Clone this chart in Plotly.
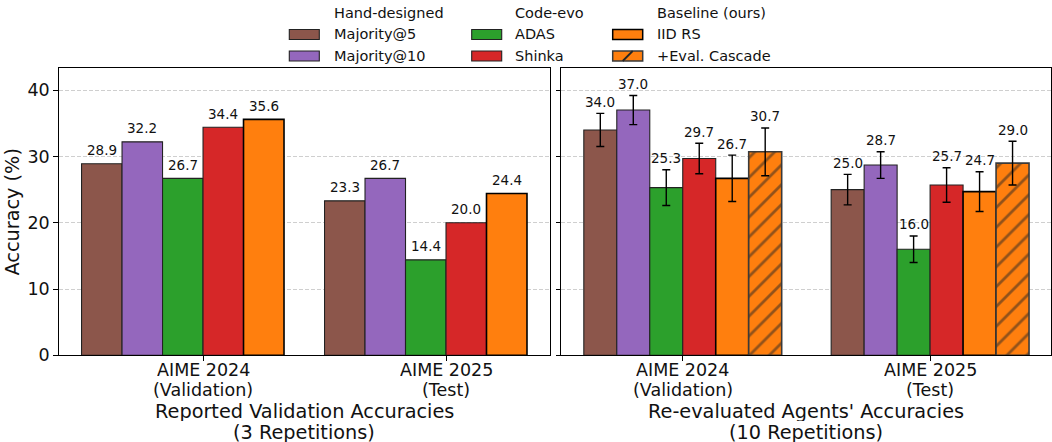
import plotly.graph_objects as go

W, H = 1052, 442

# Benchmarks (x categories), label split over two lines
benchmark_names = ["AIME 2024", "AIME 2025"]
benchmark_splits = ["(Validation)", "(Test)"]

# Methods, grouped as in the legend
hand_designed = ["Majority@5", "Majority@10"]
code_evo = ["ADAS", "Shinka"]
baseline = ["IID RS", "+Eval. Cascade"]
method_colors = ["#8c564b", "#9467bd", "#2ca02c", "#d62728", "#ff7f0e", "#ff7f0e"]

# Reported validation accuracies (3 repetitions)
reported_maj5 = [28.9, 23.3]
reported_maj10 = [32.2, 26.7]
reported_adas = [26.7, 14.4]
reported_shinka = [34.4, 20.0]
reported_iid = [35.6, 24.4]

# Re-evaluated accuracies (10 repetitions) with spread
reeval_maj5 = [34.0, 25.0]
reeval_maj10 = [37.0, 28.7]
reeval_adas = [25.3, 16.0]
reeval_shinka = [29.7, 25.7]
reeval_iid = [26.7, 24.7]
reeval_cascade = [30.7, 29.0]

reeval_maj5_err = [2.5, 2.3]
reeval_maj10_err = [2.2, 2.0]
reeval_adas_err = [2.7, 2.0]
reeval_shinka_err = [2.3, 2.6]
reeval_iid_err = [3.5, 3.0]
reeval_cascade_err = [3.6, 3.3]

y_ticks = [0, 10, 20, 30, 40]

# Panel titles, one line per entry
left_title = ["Reported Validation Accuracies", "(3 Repetitions)"]
right_title = ["Re-evaluated Agents' Accuracies", "(10 Repetitions)"]

methods = hand_designed + code_evo + baseline
reported = [reported_maj5, reported_maj10, reported_adas, reported_shinka, reported_iid]
reeval = [reeval_maj5, reeval_maj10, reeval_adas, reeval_shinka, reeval_iid, reeval_cascade]
reeval_err = [reeval_maj5_err, reeval_maj10_err, reeval_adas_err,
              reeval_shinka_err, reeval_iid_err, reeval_cascade_err]

FONT = "DejaVu Sans"
TXT = "#111111"
W_LEFT = 1 / 6      # bar width, left panel (data units)
W_RIGHT = 0.8 / 6   # bar width, right panel

# Axes boxes in figure pixels
LEFT_X = (58.7, 550.0)
RIGHT_X = (561.3, 1051.3)
AX_TOP, AX_BOTTOM = 68.3, 355.3


def edge_style(i):
    if i == 4:
        return dict(color="black", width=1.6)
    if i == 5:
        return dict(color="#3a3a3a", width=1.6)
    return dict(color="#222222", width=1.1)


def slot_x(group_positions, i, w):
    return [g + (i - 2.5) * w for g in group_positions]


def px(x):
    return x / W


def py(y):
    return 1 - y / H


fig = go.Figure()
groups = list(range(len(benchmark_names)))
annotations = []

# Left panel: reported accuracies
for i, vals in enumerate(reported):
    xs = slot_x(groups, i, W_LEFT)
    fig.add_trace(go.Bar(
        x=xs, y=vals, width=W_LEFT, name=methods[i], showlegend=False,
        marker=dict(color=method_colors[i], line=edge_style(i)),
        xaxis="x", yaxis="y",
    ))
    for x, v in zip(xs, vals):
        annotations.append(dict(
            x=x, y=v, xref="x", yref="y", text=f"{v:.1f}", showarrow=False,
            yanchor="middle", yshift=13.5, font=dict(family=FONT, size=13.5, color=TXT),
        ))

# Right panel: re-evaluated accuracies with error bars
for i, (vals, errs) in enumerate(zip(reeval, reeval_err)):
    xs = slot_x(groups, i, W_RIGHT)
    marker = dict(color=method_colors[i], line=edge_style(i))
    if i == 5:
        marker["pattern"] = dict(shape="/", fgcolor="#262626", size=14, solidity=0.2)
    fig.add_trace(go.Bar(
        x=xs, y=vals, width=W_RIGHT, name=methods[i], showlegend=False,
        marker=marker,
        error_y=dict(type="data", array=errs, color="black", thickness=1.4, width=4),
        xaxis="x2", yaxis="y2",
    ))
    for x, v, e in zip(xs, vals, errs):
        annotations.append(dict(
            x=x, y=v + e, xref="x2", yref="y2", text=f"{v:.1f}", showarrow=False,
            yanchor="middle", yshift=11.5, font=dict(family=FONT, size=13.5, color=TXT),
        ))

# Category labels under each tick (two lines, tight spacing)
for xref in ("x", "x2"):
    for g, name, split in zip(groups, benchmark_names, benchmark_splits):
        for k, line in enumerate((name, split)):
            annotations.append(dict(
                x=g, y=py(369.5 + 20.0 * k), xref=xref, yref="paper", text=line,
                showarrow=False, xanchor="center", yanchor="middle",
                height=19, borderpad=0,
                font=dict(family=FONT, size=17.5, color=TXT),
            ))

# Panel titles below the category labels
for lines, (xa, xb) in ((left_title, LEFT_X), (right_title, RIGHT_X)):
    for k, line in enumerate(lines):
        annotations.append(dict(
            x=px((xa + xb) / 2), y=py(411.0 + 20.7 * k), xref="paper", yref="paper",
            text=line, showarrow=False, xanchor="center", yanchor="middle",
            height=20, borderpad=0,
            font=dict(family=FONT, size=19.3, color=TXT),
        ))

# Grouped legend with column headers
legend_cols = [hand_designed, code_evo, baseline]
legend_titles = ["Hand-designed", "Code-evo", "Baseline (ours)"]
patch_left = [289.3, 471.7, 612.7]
text_left = [331.7, 513.3, 654.5]
row_y = [34.5, 56.0]
title_y = 13.3
shapes = []
for c, (names, title) in enumerate(zip(legend_cols, legend_titles)):
    annotations.append(dict(
        x=px(text_left[c]), y=py(title_y), xref="paper", yref="paper", text=title,
        showarrow=False, xanchor="left", yanchor="middle",
        font=dict(family=FONT, size=14.5, color=TXT),
    ))
    for r, name in enumerate(names):
        idx = methods.index(name)
        x0, x1 = patch_left[c], patch_left[c] + 30
        y0, y1 = row_y[r] - 5, row_y[r] + 5
        ln = edge_style(idx)
        shapes.append(dict(
            type="rect", xref="paper", yref="paper",
            x0=px(x0), x1=px(x1), y0=py(y1), y1=py(y0),
            fillcolor=method_colors[idx],
            line=dict(color=ln["color"], width=min(ln["width"], 1.5)),
        ))
        if idx == 5:
            shapes.append(dict(
                type="line", xref="paper", yref="paper",
                x0=px(x0 + 10), x1=px(x0 + 20), y0=py(y1), y1=py(y0),
                line=dict(color="#262626", width=1.8),
            ))
        annotations.append(dict(
            x=px(text_left[c]), y=py(row_y[r]), xref="paper", yref="paper", text=name,
            showarrow=False, xanchor="left", yanchor="middle",
            font=dict(family=FONT, size=14.5, color=TXT),
        ))

axis_common = dict(
    showline=True, mirror=True, linecolor="black", linewidth=1,
    ticks="outside", tickcolor="black", zeroline=False, automargin=False,
    tickfont=dict(family=FONT, size=17.5, color=TXT),
)
y_dom = [py(AX_BOTTOM), py(AX_TOP)]
grid = dict(showgrid=True, gridcolor="#cfcfcf", griddash="4px,2px", gridwidth=1)

fig.update_layout(
    width=W, height=H,
    margin=dict(l=0, r=0, t=0, b=0, autoexpand=False),
    paper_bgcolor="white", plot_bgcolor="white",
    barmode="overlay",
    font=dict(family=FONT, color=TXT),
    xaxis=dict(
        axis_common, domain=[px(LEFT_X[0]), px(LEFT_X[1])], range=[-0.594, 1.428],
        tickvals=groups, showticklabels=False, ticklen=5, showgrid=False,
    ),
    xaxis2=dict(
        axis_common, domain=[px(RIGHT_X[0]), px(RIGHT_X[1])], range=[-0.491, 1.490],
        tickvals=groups, showticklabels=False, ticklen=5, showgrid=False, anchor="y2",
    ),
    yaxis=dict(
        axis_common, domain=y_dom, range=[0, 43.3], tickvals=y_ticks, ticklen=4.5,
        title=dict(text="Accuracy (%)", font=dict(family=FONT, size=19.3, color=TXT), standoff=2),
        **grid,
    ),
    yaxis2=dict(
        axis_common, domain=y_dom, range=[0, 43.3], tickvals=y_ticks, ticklen=4.5,
        showticklabels=False, anchor="x2", matches="y", **grid,
    ),
    annotations=annotations,
    shapes=shapes,
)

fig.write_html("out.html")
